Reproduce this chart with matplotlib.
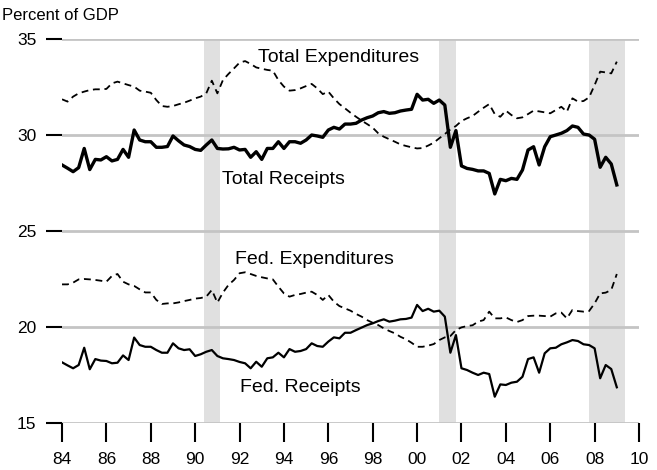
import numpy as np
import matplotlib
matplotlib.use("Agg")
import matplotlib.pyplot as plt

plt.rcParams['font.family'] = ['Liberation Sans', 'DejaVu Sans']

# quarterly, 1984Q1 .. 2009Q1
start_year = 1984
total_receipts = [
    28.44, 28.27, 28.09, 28.30, 29.30, 28.20, 28.73, 28.70, 28.87, 28.65,
    28.73, 29.25, 28.84, 30.26, 29.74, 29.65, 29.65, 29.36, 29.36, 29.40,
    29.95, 29.70, 29.48, 29.40, 29.25, 29.20, 29.48, 29.74, 29.30, 29.27,
    29.28, 29.36, 29.22, 29.25, 28.84, 29.13, 28.73, 29.30, 29.30, 29.65,
    29.30, 29.65, 29.65, 29.57, 29.74, 30.00, 29.95, 29.88, 30.26, 30.40,
    30.31, 30.57, 30.57, 30.61, 30.78, 30.90, 30.99, 31.16, 31.22, 31.13,
    31.16, 31.25, 31.30, 31.34, 32.12, 31.82, 31.86, 31.65, 31.82, 31.56,
    29.36, 30.23, 28.39, 28.26, 28.21, 28.13, 28.13, 28.00, 26.93, 27.69,
    27.62, 27.74, 27.69, 28.18, 29.22, 29.39, 28.44, 29.39, 29.91, 30.00,
    30.09, 30.23, 30.47, 30.40, 30.05, 30.00, 29.78, 28.32, 28.84, 28.49,
    27.40]
total_expend = [
    31.86, 31.74, 32.00, 32.17, 32.26, 32.34, 32.38, 32.38, 32.40, 32.69,
    32.78, 32.69, 32.60, 32.52, 32.31, 32.26, 32.20, 31.82, 31.51, 31.47,
    31.51, 31.60, 31.68, 31.79, 31.91, 32.00, 32.17, 32.83, 32.17, 32.86,
    33.18, 33.47, 33.77, 33.85, 33.70, 33.52, 33.45, 33.39, 33.35, 32.86,
    32.52, 32.31, 32.34, 32.43, 32.55, 32.66, 32.43, 32.13, 32.26, 31.91,
    31.61, 31.39, 31.16, 30.95, 30.75, 30.57, 30.38, 30.09, 29.91, 29.78,
    29.65, 29.51, 29.43, 29.36, 29.30, 29.32, 29.45, 29.60, 29.83, 30.05,
    30.29, 30.47, 30.73, 30.87, 30.99, 31.21, 31.42, 31.61, 31.09, 30.95,
    31.27, 31.04, 30.87, 30.92, 31.09, 31.27, 31.23, 31.18, 31.13, 31.30,
    31.47, 31.21, 31.91, 31.74, 31.77, 31.96, 32.60, 33.30, 33.26, 33.21,
    33.82]
fed_receipts = [
    18.16, 18.00, 17.85, 18.02, 18.92, 17.80, 18.33, 18.25, 18.23, 18.11,
    18.14, 18.52, 18.28, 19.45, 19.06, 18.97, 18.97, 18.80, 18.66, 18.66,
    19.15, 18.89, 18.80, 18.84, 18.49, 18.58, 18.71, 18.80, 18.49, 18.37,
    18.33, 18.28, 18.18, 18.11, 17.85, 18.19, 17.93, 18.37, 18.42, 18.66,
    18.42, 18.85, 18.71, 18.75, 18.85, 19.15, 19.01, 18.97, 19.24, 19.46,
    19.41, 19.70, 19.70, 19.84, 19.97, 20.10, 20.19, 20.31, 20.40, 20.28,
    20.33, 20.40, 20.42, 20.49, 21.15, 20.83, 20.95, 20.80, 20.85, 20.54,
    18.66, 19.58, 17.85, 17.76, 17.62, 17.50, 17.62, 17.55, 16.37, 17.01,
    16.98, 17.10, 17.15, 17.41, 18.33, 18.42, 17.62, 18.63, 18.89, 18.92,
    19.10, 19.20, 19.32, 19.27, 19.10, 19.06, 18.89, 17.33, 18.02, 17.81,
    16.86]
fed_expend = [
    22.22, 22.22, 22.31, 22.48, 22.50, 22.48, 22.45, 22.41, 22.36, 22.66,
    22.76, 22.36, 22.22, 22.14, 21.96, 21.80, 21.80, 21.41, 21.20, 21.23,
    21.23, 21.28, 21.35, 21.41, 21.48, 21.51, 21.58, 21.93, 21.27, 21.79,
    22.19, 22.45, 22.80, 22.85, 22.76, 22.66, 22.59, 22.53, 22.48, 22.10,
    21.75, 21.58, 21.67, 21.72, 21.79, 21.84, 21.67, 21.41, 21.67, 21.32,
    21.09, 20.97, 20.85, 20.68, 20.54, 20.36, 20.22, 20.10, 19.93, 19.79,
    19.67, 19.49, 19.36, 19.18, 18.97, 18.97, 19.03, 19.11, 19.32, 19.46,
    19.53, 19.84, 19.98, 20.05, 20.09, 20.28, 20.36, 20.80, 20.45, 20.45,
    20.50, 20.36, 20.26, 20.36, 20.57, 20.59, 20.59, 20.57, 20.54, 20.71,
    20.75, 20.45, 20.89, 20.83, 20.80, 20.83, 21.23, 21.75, 21.79, 21.93,
    22.76]
recessions = [(1990.42, 1991.12), (2001.0, 2001.75), (2007.75, 2009.35)]
year_ticks = list(range(1984, 2011, 2))
year_labels = ['%02d' % (y % 100) for y in year_ticks]

t = start_year + np.arange(len(total_receipts)) / 4.0

fig = plt.figure(figsize=(6.57, 4.70), dpi=100)
ax = fig.add_axes([0.0944, 0.100, 0.8782, 0.817])

for a, b in recessions:
    ax.axvspan(a, b, color='#e0e0e0', lw=0, zorder=0)
for yv in [15, 20, 25, 30, 35]:
    ax.axhline(yv, color='#c4c4c4', lw=2, zorder=1)

dash = (0, (3.8, 2.6))
ax.plot(t, total_expend, color='black', lw=1.3, ls=dash, zorder=3)
ax.plot(t, total_receipts, color='black', lw=2.4, zorder=3)
ax.plot(t, fed_expend, color='black', lw=1.3, ls=dash, zorder=3)
ax.plot(t, fed_receipts, color='black', lw=1.6, zorder=3)

lfs = 14
ax.text(1992.85, 34.05, 'Total Expenditures', fontsize=lfs, va='center')
ax.text(1991.2, 27.7, 'Total Receipts', fontsize=lfs, va='center')
ax.text(1991.8, 23.5, 'Fed. Expenditures', fontsize=lfs, va='center')
ax.text(1992.0, 16.85, 'Fed. Receipts', fontsize=lfs, va='center')

ax.set_xlim(1984, 2010)
ax.set_ylim(15, 35)
ax.set_xticks(year_ticks)
ax.set_xticklabels(year_labels)
ax.set_yticks([15, 20, 25, 30, 35])
ax.tick_params(axis='x', direction='out', length=14, width=1.5, pad=7, labelsize=12.5)
ax.tick_params(axis='y', direction='out', length=11.5, width=1.5, pad=7, labelsize=12.5)
for s in ax.spines.values():
    s.set_visible(False)

fig.text(0.003, 0.968, 'Percent of GDP', fontsize=12, va='center', ha='left')

fig.savefig('out.png', dpi=100)
